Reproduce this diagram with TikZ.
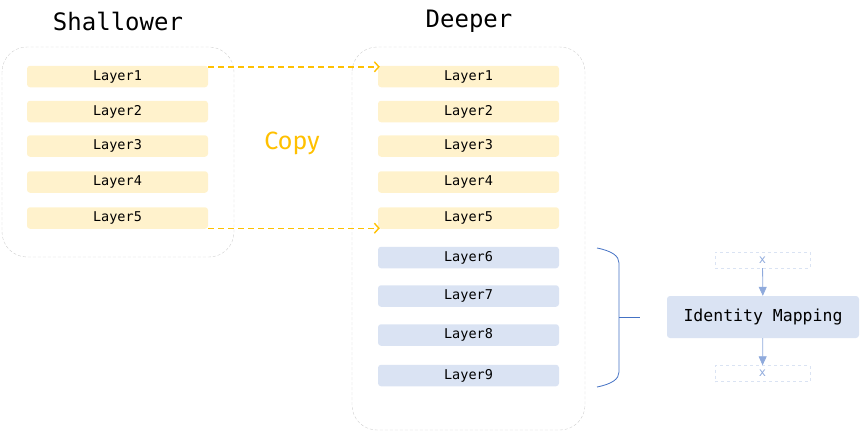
\documentclass[tikz,border=0pt]{standalone}
\usepackage{fontspec}
\setmainfont{Fira Sans}
\setmonofont{DejaVu Sans Mono}
\usetikzlibrary{arrows.meta}
\definecolor{layeryellow}{HTML}{FFF2CC}
\definecolor{layerblue}{HTML}{DAE3F3}
\definecolor{copygold}{HTML}{FFC000}
\definecolor{bracketblue}{HTML}{4472C4}
\definecolor{mapblue}{HTML}{8FAADC}
\definecolor{framegray}{HTML}{CFCFCF}
\begin{document}
\begin{tikzpicture}[x=1pt,y=-1pt,
    layer/.style={rounded corners=3pt,minimum width=181pt,minimum height=21.5pt,inner sep=0pt,
      font=\ttfamily\fontsize{13.5}{13.5}\selectfont},
    olderlayer/.style={layer,fill=layeryellow},
    newlayer/.style={layer,fill=layerblue},
    stack/.style={draw=framegray,dash pattern=on 3pt off 2pt,rounded corners=25pt},
    title/.style={font=\ttfamily\fontsize{24}{24}\selectfont},
    copyline/.style={draw=copygold,line width=1.4pt,dash pattern=on 6pt off 4pt,
      -{Straight Barb[length=4.5pt,width=10pt]}},
    xbox/.style={draw=layerblue,dashed,minimum width=95pt,minimum height=16pt,inner sep=0pt,
      text=mapblue,font=\ttfamily\fontsize{12}{12}\selectfont},
    maparrow/.style={draw=mapblue,thick,-{Triangle[length=9pt,width=8pt]}}]
    \useasboundingbox (0,0) rectangle (860,431);
    % frames
    \draw [stack] (2,47) rectangle (234,257);
    \draw [stack] (352,47) rectangle (585,430);
    \node [title] (shallow) at (118,21) {Shallower};
    \node [title] (deep) at (469,21) {Deeper};
    % shallower layers
    \node [olderlayer] (s1) at (117.5,76.5) {Layer1};
    \node [olderlayer] (s2) at (117.5,111.5) {Layer2};
    \node [olderlayer] (s3) at (117.5,146) {Layer3};
    \node [olderlayer] (s4) at (117.5,182) {Layer4};
    \node [olderlayer] (s5) at (117.5,218) {Layer5};
    % deeper layers
    \node [olderlayer] (d1) at (468.5,76.5) {Layer1};
    \node [olderlayer] (d2) at (468.5,111.5) {Layer2};
    \node [olderlayer] (d3) at (468.5,146) {Layer3};
    \node [olderlayer] (d4) at (468.5,182) {Layer4};
    \node [olderlayer] (d5) at (468.5,218) {Layer5};
    \node [newlayer] (d6) at (468.5,257.5) {Layer6};
    \node [newlayer] (d7) at (468.5,296) {Layer7};
    \node [newlayer] (d8) at (468.5,335) {Layer8};
    \node [newlayer] (d9) at (468.5,375.5) {Layer9};
    % copy
    \node [text=copygold,font=\fontsize{25}{25}\selectfont] (copy) at (292,143) {Copy};
    \draw [copyline] ([yshift=-1.25pt]s1.north east) -- ([xshift=2pt,yshift=-1.25pt]d1.north west);
    \draw [copyline] ([yshift=0.75pt]s5.south east) -- ([xshift=2pt,yshift=0.75pt]d5.south west);
    % brace
    \draw [bracketblue,thick] (597,248) .. controls (612,251) and (619,256) .. (619,263)
      -- (619,372) .. controls (619,379) and (612,384) .. (597,387);
    \draw [bracketblue,thick] (619,317) -- (640,317);
    % identity mapping
    \node [fill=layerblue,rounded corners=3pt,minimum width=192pt,minimum height=42pt,inner sep=0pt,
      font=\ttfamily\fontsize{16.5}{16.5}\selectfont] (idmap) at (763,317) {Identity Mapping};
    \node [xbox] (xin) at (762.5,260) {x};
    \node [xbox] (xout) at (762.5,373.5) {x};
    \draw [maparrow] (xin) -- (idmap);
    \draw [maparrow] (idmap) -- (xout);
\end{tikzpicture}
\end{document}
